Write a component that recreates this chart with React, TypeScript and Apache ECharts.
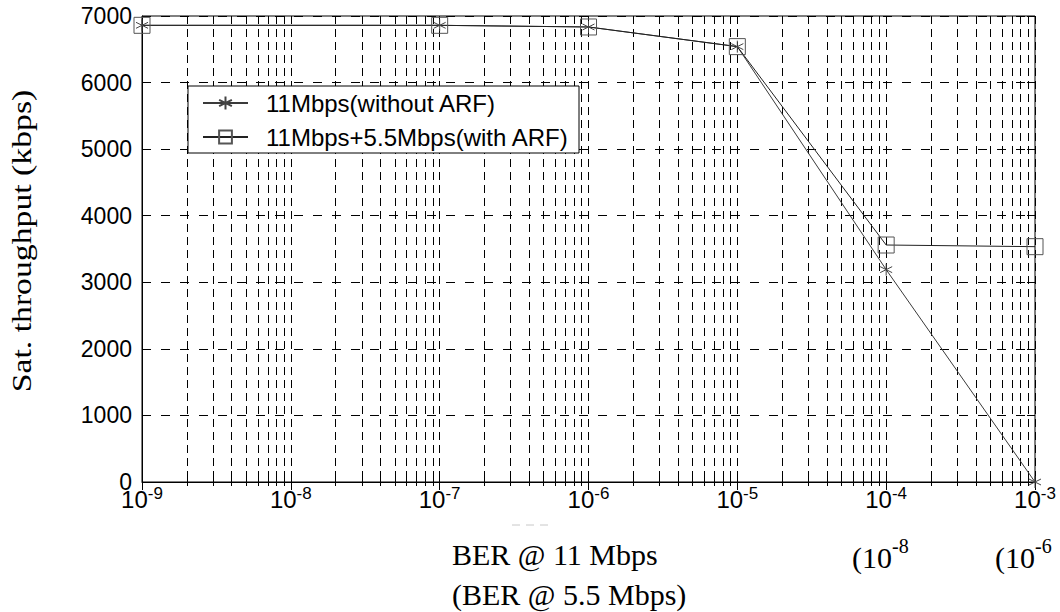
import React, { useEffect, useRef } from "react";
import * as echarts from "echarts";

// ---- data ----
const berValues = [1e-9, 1e-7, 1e-6, 1e-5, 1e-4, 1e-3];
const withoutArf = [6860, 6860, 6835, 6540, 3190, 0];
const withArf = [6860, 6860, 6835, 6540, 3560, 3535];
const seriesNames = ["11Mbps(without ARF)", "11Mbps+5.5Mbps(with ARF)"];
const yTitle = "Sat. throughput (kbps)";
const xTitleLine1 = "BER @ 11 Mbps";
const xTitleLine2 = "(BER @ 5.5 Mbps)";
const secondaryExp = ["-8", "-6"];

const STAR = "path://M5,0L5,10M0.67,2.5L9.33,7.5M0.67,7.5L9.33,2.5";
const SANS = "Liberation Sans, Arial, Helvetica, sans-serif";
const SERIF = "Liberation Serif, Times New Roman, serif";

const gridDash = { color: "#000", width: 1, type: [8, 5] as number[] };

const option: any = {
  animation: false,
  backgroundColor: "#fff",
  grid: {
    left: 142,
    right: 25,
    top: 16,
    bottom: 130,
    show: true,
    borderColor: "#000",
    borderWidth: 1,
    backgroundColor: "transparent",
  },
  xAxis: [
    {
      type: "log",
      logBase: 10,
      min: 1e-9,
      max: 1e-3,
      splitNumber: 6,
      axisLine: { lineStyle: { color: "#000", width: 1 } },
      axisTick: { inside: true, length: 8, lineStyle: { color: "#000" } },
      minorTick: { show: true, splitNumber: 9, length: 4, lineStyle: { color: "#000" } },
      minorSplitLine: { show: true, lineStyle: { color: "#000", width: 1, type: [8, 5] } },
      axisLabel: {
        margin: 3,
        formatter: (v: number) => `{b|10}{s|${Math.round(Math.log10(v))}}`,
        rich: {
          b: { fontSize: 24, fontFamily: SANS, color: "#000", lineHeight: 26, verticalAlign: "bottom" },
          s: { fontSize: 17, fontFamily: SANS, color: "#000", lineHeight: 17, verticalAlign: "top", padding: [0, 0, 13, 0] },
        },
      },
      splitLine: { show: true, lineStyle: gridDash },
    },
    {
      type: "log",
      logBase: 10,
      min: 1e-9,
      max: 1e-3,
      splitNumber: 6,
      position: "top",
      axisLine: { show: false },
      axisTick: { inside: true, length: 8, lineStyle: { color: "#000" } },
      minorTick: { show: true, splitNumber: 9, length: 4, lineStyle: { color: "#000" } },
      axisLabel: { show: false },
      splitLine: { show: false },
    },
  ],
  yAxis: [
    {
      type: "value",
      min: 0,
      max: 7000,
      interval: 1000,
      axisLine: { show: true, lineStyle: { color: "#000", width: 1 } },
      axisTick: { show: true, inside: true, length: 8, lineStyle: { color: "#000" } },
      axisLabel: {
        margin: 10,
        fontSize: 23,
        fontFamily: SANS,
        color: "#000",
        formatter: (v: number) => String(v),
      },
      splitLine: { show: true, lineStyle: { color: "#000", width: 1, type: [9, 10] } },
    },
    {
      type: "value",
      min: 0,
      max: 7000,
      interval: 1000,
      position: "right",
      axisLine: { show: false },
      axisTick: { show: true, inside: true, length: 8, lineStyle: { color: "#000" } },
      axisLabel: { show: false },
      splitLine: { show: false },
    },
  ],
  legend: {
    orient: "vertical",
    left: 188,
    top: 86,
    selectedMode: false,
    itemWidth: 45,
    itemHeight: 16,
    itemGap: 10,
    padding: [5, 10, 4, 14],
    borderColor: "#000",
    borderWidth: 1,
    backgroundColor: "#fff",
    textStyle: { fontSize: 24, fontFamily: SANS, color: "#000", lineHeight: 24, padding: [0, 0, 0, 13] },
    data: seriesNames,
  },
  series: [
    {
      name: seriesNames[0],
      type: "line",
      data: berValues.map((b, i) => [b, withoutArf[i]]),
      symbol: STAR,
      symbolSize: 12,
      lineStyle: { color: "#3a3a3a", width: 1 },
      itemStyle: { color: "transparent", borderColor: "#444", borderWidth: 1 },
      emphasis: { disabled: true },
      z: 4,
    },
    {
      name: seriesNames[1],
      type: "line",
      data: berValues.map((b, i) => [b, withArf[i]]),
      symbol: "rect",
      symbolSize: 16,
      lineStyle: { color: "#222", width: 1 },
      itemStyle: { color: "transparent", borderColor: "#555", borderWidth: 1 },
      emphasis: { disabled: true },
      z: 4,
    },
  ],
  graphic: [
    {
      type: "text",
      x: 22,
      y: 241,
      rotation: Math.PI / 2,
      scaleX: 1.25,
      style: { text: yTitle, font: `27px ${SERIF}`, fill: "#000", align: "center", verticalAlign: "middle" },
    },
    {
      type: "text",
      x: 452,
      y: 554,
      style: { text: xTitleLine1, font: `30px ${SERIF}`, fill: "#000", align: "left", verticalAlign: "middle" },
    },
    {
      type: "text",
      x: 452,
      y: 594,
      style: { text: xTitleLine2, font: `30px ${SERIF}`, fill: "#000", align: "left", verticalAlign: "middle" },
    },
    {
      type: "text",
      x: 852,
      y: 557,
      style: { text: "(10", font: `30px ${SERIF}`, fill: "#000", align: "left", verticalAlign: "middle" },
    },
    {
      type: "text",
      x: 892,
      y: 546,
      style: { text: secondaryExp[0], font: `20px ${SERIF}`, fill: "#000", align: "left", verticalAlign: "middle" },
    },
    {
      type: "text",
      x: 995,
      y: 557,
      style: { text: "(10", font: `30px ${SERIF}`, fill: "#000", align: "left", verticalAlign: "middle" },
    },
    {
      type: "text",
      x: 1035,
      y: 546,
      style: { text: secondaryExp[1], font: `20px ${SERIF}`, fill: "#000", align: "left", verticalAlign: "middle" },
    },
    {
      type: "line",
      shape: { x1: 512, y1: 525, x2: 553, y2: 525 },
      style: { stroke: "#c8c8c8", lineWidth: 1, lineDash: [8, 6] },
    },
  ],
};

export default function App() {
  const ref = useRef<HTMLDivElement>(null);
  useEffect(() => {
    if (!ref.current) return;
    const chart = echarts.init(ref.current, null, { renderer: "svg" });
    chart.setOption(option);
    return () => chart.dispose();
  }, []);
  return (
    <div
      ref={ref}
      style={{ position: "fixed", left: 0, top: 0, width: 1060, height: 612, background: "#fff" }}
    />
  );
}
